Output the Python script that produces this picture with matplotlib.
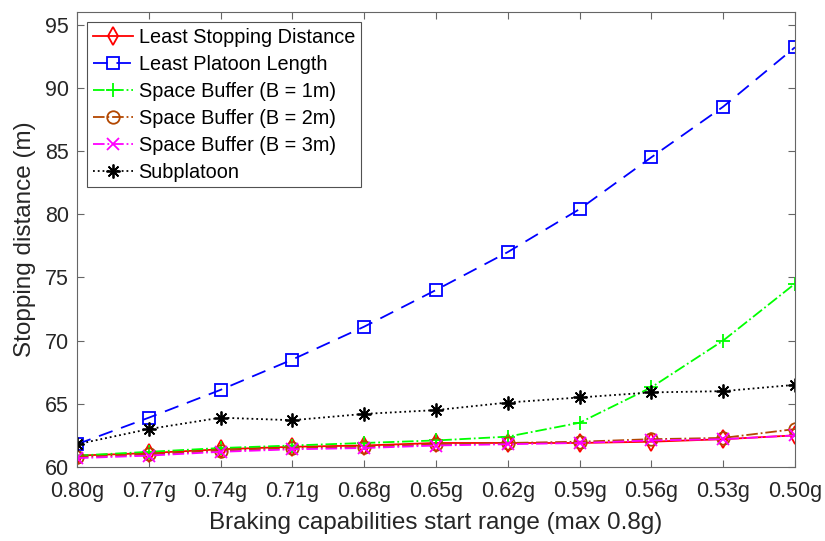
import numpy as np
import matplotlib.pyplot as plt

plt.rcParams['font.family'] = ['Liberation Sans', 'DejaVu Sans']

labels = ['0.80g', '0.77g', '0.74g', '0.71g', '0.68g', '0.65g', '0.62g', '0.59g', '0.56g', '0.53g', '0.50g']

least_stopping = [60.9, 61.1, 61.4, 61.6, 61.7, 61.9, 61.9, 61.9, 62.0, 62.2, 62.5]
least_platoon = [61.8, 63.9, 66.1, 68.5, 71.1, 74.0, 77.0, 80.4, 84.5, 88.5, 93.2]
buffer_1m = [60.9, 61.2, 61.5, 61.7, 61.9, 62.1, 62.4, 63.5, 66.3, 70.0, 74.5]
buffer_2m = [60.8, 61.0, 61.3, 61.5, 61.6, 61.8, 61.9, 62.0, 62.2, 62.3, 63.0]
buffer_3m = [60.7, 60.9, 61.2, 61.4, 61.5, 61.7, 61.8, 61.9, 62.1, 62.2, 62.5]
subplatoon = [61.8, 63.0, 63.9, 63.7, 64.2, 64.5, 65.1, 65.5, 65.9, 66.0, 66.5]

x = np.arange(len(labels))
txt = '0.15'

fig = plt.figure(figsize=(8.25, 5.41), dpi=100)
ax = fig.add_axes([0.0933, 0.1368, 0.8703, 0.8412])

ax.plot(x, least_stopping, '-', color='red', marker='d', mfc='none', ms=9, mew=1.3, lw=1.3,
        label='Least Stopping Distance')
ax.plot(x, least_platoon, '--', color='blue', marker='s', mfc='none', ms=8, mew=1.3, lw=1.3,
        dashes=(8, 5), label='Least Platoon Length')
ax.plot(x, buffer_1m, '-.', color='#00ff00', marker='+', ms=10, mew=1.3, lw=1.3,
        label='Space Buffer (B = 1m)')
ax.plot(x, buffer_2m, '-.', color='#b34700', marker='o', mfc='none', ms=9, mew=1.3, lw=1.3,
        label='Space Buffer (B = 2m)')
ax.plot(x, buffer_3m, '-.', color='magenta', marker='x', ms=8, mew=1.3, lw=1.3,
        label='Space Buffer (B = 3m)')
ax.plot(x, subplatoon, ':', color='black', marker=(8, 2, 0), ms=10, mew=1.3, lw=1.3,
        label='Subplatoon')

ax.set_xlim(0, len(labels) - 1)
ax.set_ylim(60, 96)
ax.set_xticks(x)
ax.set_xticklabels(labels)
ax.set_yticks(np.arange(60, 96, 5))
ax.tick_params(direction='in', top=True, right=True, labelsize=15.5, colors='0.4',
               labelcolor=txt, length=5)
ax.tick_params(axis='x', pad=10)
ax.tick_params(axis='y', pad=6)
for s in ax.spines.values():
    s.set_color('0.4')
    s.set_linewidth(0.8)

ax.set_xlabel('Braking capabilities start range (max 0.8g)', fontsize=17.5, color=txt, labelpad=7)
ax.set_ylabel('Stopping distance (m)', fontsize=17.5, color=txt, labelpad=6)

leg = ax.legend(loc='upper left', fontsize=14.3, fancybox=False, edgecolor='0.15',
                handlelength=2.0, borderaxespad=0.5, labelspacing=0.4, handletextpad=0.3,
                borderpad=0.3)
leg.get_frame().set_linewidth(0.8)

fig.savefig('out.png', dpi=100)
